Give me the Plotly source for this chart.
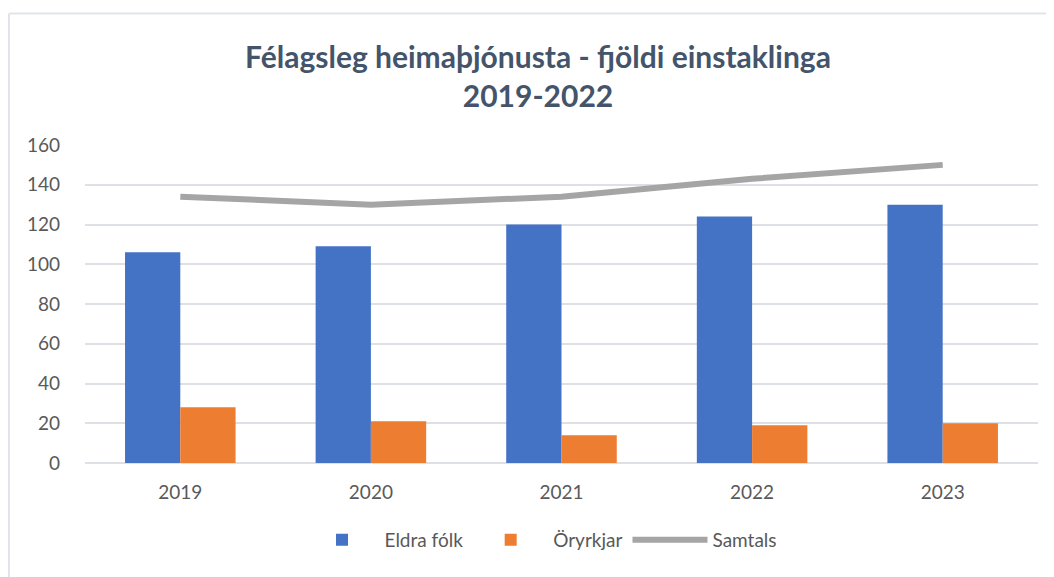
import plotly.graph_objects as go

years = ["2019", "2020", "2021", "2022", "2023"]
eldra = [106, 109, 120, 124, 130]
oryrkjar = [28, 21, 14, 19, 20]
samtals = [134, 130, 134, 143, 150]

FONT = "Lato"
W, H = 1046, 569
L, R, T, B = 77, 16, 137, 114
PW, PH = W - L - R, H - T - B

fig = go.Figure()
fig.add_trace(go.Bar(x=years, y=eldra, name="Eldra fólk", marker=dict(color="#4472C4", line=dict(width=0))))
fig.add_trace(go.Bar(x=years, y=oryrkjar, name="Öryrkjar", marker=dict(color="#ED7D31", line=dict(width=0))))
fig.add_trace(go.Scatter(x=years, y=samtals, name="Samtals", mode="lines",
                         line=dict(color="#A5A5A5", width=6)))

border = "#E1E5EA"
fig.update_layout(
    width=W, height=H,
    paper_bgcolor="white", plot_bgcolor="white",
    margin=dict(l=L, r=R, t=T, b=B, autoexpand=False),
    barmode="group", bargap=0.42, bargroupgap=0,
    font=dict(family=FONT, color="#595959", size=19),
    title=dict(text="<b>Félagsleg heimaþjónusta - fjöldi einstaklinga<br>2019-2022</b>",
               x=(538 - 8) / W, xanchor="center", y=0.894, yanchor="top",
               font=dict(family=FONT, size=30, color="#44546A")),
    legend=dict(orientation="h", x=(541 - 8 - L) / PW, xanchor="center", y=-0.182, yanchor="top",
                font=dict(size=19, color="#595959"), itemwidth=75, traceorder="normal"),
    xaxis=dict(showgrid=False, ticks="", showline=False, automargin=False,
               tickfont=dict(size=19, color="#595959"), ticklabelstandoff=16),
    yaxis=dict(range=[0, 160], dtick=20, showgrid=True, gridcolor="#DDE1E6", gridwidth=1.5,
               zeroline=True, zerolinecolor="#DDE1E6", zerolinewidth=1.5, automargin=False,
               ticks="", tickfont=dict(size=19, color="#595959"), ticklabelstandoff=24),
    shapes=[
        dict(type="line", xref="paper", yref="paper",
             x0=(1 - L) / PW, x1=(1 - L) / PW, y0=-(B + 5) / PH, y1=1 + (T - 5.5) / PH,
             line=dict(color=border, width=2), layer="below"),
        dict(type="line", xref="paper", yref="paper",
             x0=(1 - L) / PW, x1=1 + (R + 5) / PW, y0=1 + (T - 5.5) / PH, y1=1 + (T - 5.5) / PH,
             line=dict(color=border, width=2), layer="below"),
    ],
)
fig.write_html("out.html")
